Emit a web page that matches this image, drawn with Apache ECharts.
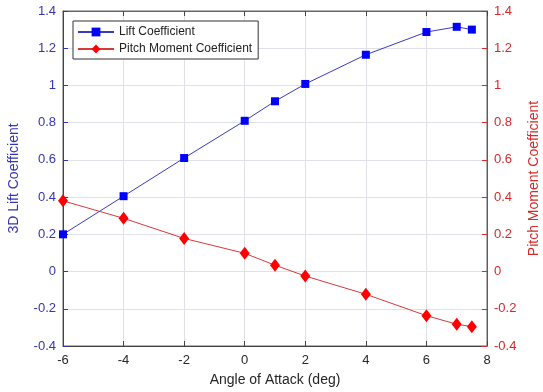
<!DOCTYPE html>
<html><head><meta charset="utf-8">
<script src="https://cdn.jsdelivr.net/npm/echarts@6/dist/echarts.min.js"></script>
<style>html,body{margin:0;padding:0;background:#fff}#c{width:543px;height:392px}</style>
</head><body><div id="c"></div>
<script>
const angles = [-6, -4, -2, 0, 1, 2, 4, 6, 7, 7.5];
const liftCoeff = [0.20, 0.405, 0.61, 0.81, 0.915, 1.008, 1.165, 1.287, 1.315, 1.300];
const pitchCoeff = [0.38, 0.286, 0.178, 0.098, 0.034, -0.024, -0.122, -0.237, -0.283, -0.296];
const xTicks = [-6, -4, -2, 0, 2, 4, 6, 8];
const yTicks = [-0.4, -0.2, 0, 0.2, 0.4, 0.6, 0.8, 1, 1.2, 1.4];

const font = 'Liberation Sans, Arial, sans-serif';
const blue = '#3434b0', red = '#d42a2a';
const chart = echarts.init(document.getElementById('c'));
const fmtY = v => String(Math.round(v * 10) / 10);
chart.setOption({
  animation: false,
  textStyle: { fontFamily: font },
  grid: { left: 63, right: 56, top: 11, bottom: 46, show: true, borderColor: '#666', borderWidth: 1,
          containLabel: false, outerBoundsMode: 'none' },
  legend: {
    left: 73, top: 21, orient: 'vertical', itemWidth: 36, itemHeight: 11, itemGap: 5,
    padding: [5, 6, 4, 4], borderColor: '#333', borderWidth: 1, backgroundColor: '#fff',
    textStyle: { fontSize: 12, color: '#222', fontFamily: font },
    data: ['Lift Coefficient', 'Pitch Moment Coefficient']
  },
  xAxis: [{
    type: 'value', min: xTicks[0], max: xTicks[xTicks.length - 1], interval: 2,
    name: 'Angle of Attack (deg)', nameLocation: 'middle', nameGap: 27,
    nameTextStyle: { fontSize: 14, color: '#262626' },
    axisLine: { onZero: false, lineStyle: { color: '#444' } },
    axisTick: { inside: true, length: 5, lineStyle: { color: '#444' } },
    axisLabel: { fontSize: 13, color: '#262626', margin: 8 },
    splitLine: { show: true, lineStyle: { color: '#e0e0e8' } }
  }, {
    type: 'value', min: xTicks[0], max: xTicks[xTicks.length - 1], interval: 2, position: 'top',
    axisLine: { show: true, onZero: false, lineStyle: { color: '#666' } },
    axisTick: { show: true, inside: true, length: 5, lineStyle: { color: '#444' } },
    axisLabel: { show: false }, splitLine: { show: false }
  }],
  yAxis: [{
    type: 'value', min: yTicks[0], max: yTicks[yTicks.length - 1], interval: 0.2,
    name: '3D Lift Coefficient', nameLocation: 'middle', nameGap: 42,
    nameTextStyle: { fontSize: 14, color: blue },
    axisLine: { show: true, onZero: false, lineStyle: { color: blue } },
    axisTick: { show: true, inside: true, length: 5, lineStyle: { color: blue } },
    axisLabel: { fontSize: 13, color: blue, margin: 7, formatter: fmtY },
    splitLine: { show: true, lineStyle: { color: '#e0e0e8' } }
  }, {
    type: 'value', min: yTicks[0], max: yTicks[yTicks.length - 1], interval: 0.2, position: 'right',
    name: 'Pitch Moment Coefficient', nameLocation: 'middle', nameGap: 38, nameRotate: 90,
    nameTextStyle: { fontSize: 14, color: red },
    axisLine: { show: true, onZero: false, lineStyle: { color: red } },
    axisTick: { show: true, inside: true, length: 5, lineStyle: { color: red } },
    axisLabel: { fontSize: 13, color: red, margin: 7, formatter: fmtY },
    splitLine: { show: false }
  }],
  series: [{
    name: 'Lift Coefficient', type: 'line', yAxisIndex: 0,
    data: angles.map((a, i) => [a, liftCoeff[i]]),
    symbol: 'rect', symbolSize: 8,
    itemStyle: { color: '#0000ff' },
    lineStyle: { color: '#3a3ac0', width: 1 }
  }, {
    name: 'Pitch Moment Coefficient', type: 'line', yAxisIndex: 1,
    data: angles.map((a, i) => [a, pitchCoeff[i]]),
    symbol: 'diamond', symbolSize: [10, 13],
    itemStyle: { color: '#ff0000' },
    lineStyle: { color: '#d83838', width: 1 }
  }]
});
</script></body></html>
